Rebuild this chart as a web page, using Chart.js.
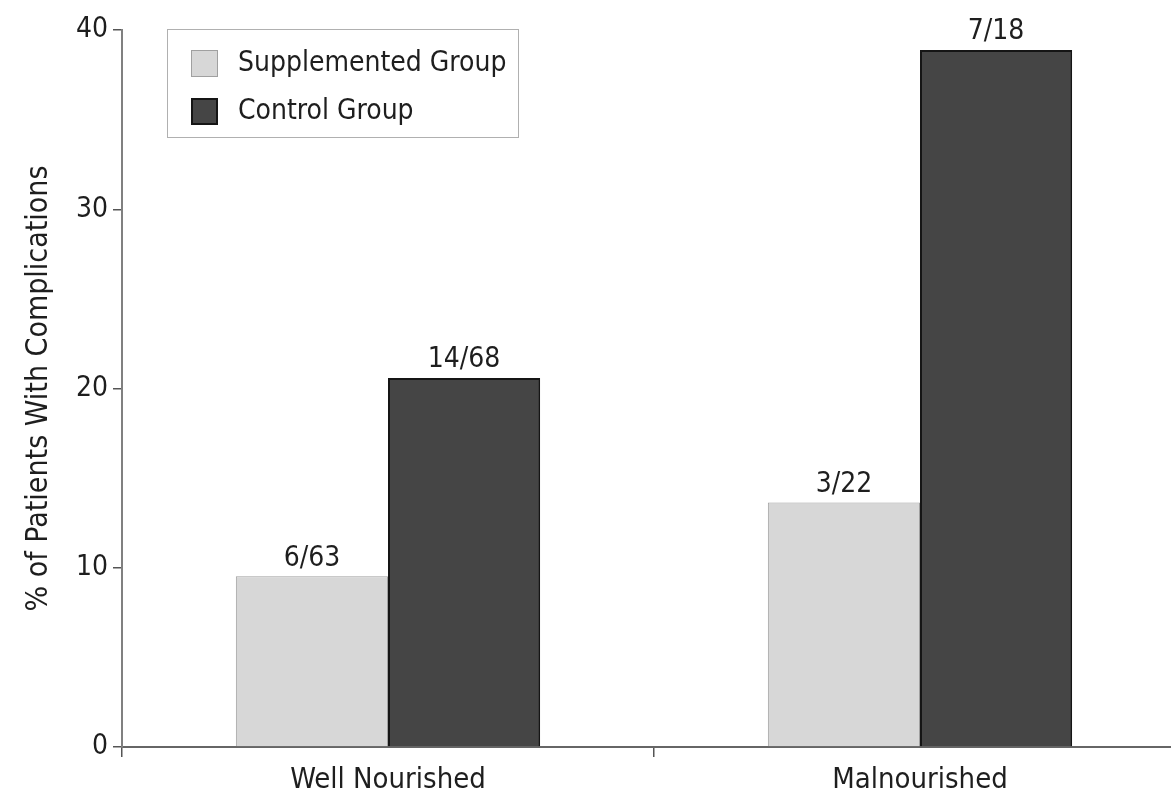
<!DOCTYPE html>
<html>
<head>
<meta charset="utf-8">
<script src="https://cdn.jsdelivr.net/npm/chart.js@4/dist/chart.umd.min.js"></script>
<style>
  html, body { margin: 0; padding: 0; background: #fff; overflow: hidden; }
  #wrap { width: 1190px; height: 796px; }
</style>
</head>
<body>
<div id="wrap"><canvas id="c" width="1190" height="796"></canvas></div>
<script>
// Categories, series and the counts written above each bar
const categories = ['Well Nourished', 'Malnourished'];
const supplementedPct = [9.52, 13.64];   // 6/63, 3/22
const controlPct = [20.59, 38.89];       // 14/68, 7/18
const supplementedLabels = ['6/63', '3/22'];
const controlLabels = ['14/68', '7/18'];
const yTicks = [0, 10, 20, 30, 40];

const FONT = '"DejaVu Sans Condensed", "Liberation Sans Narrow", sans-serif';
const TEXT = '#1e1e1e';

// Writes the n/N count above every bar
const barCounts = {
  id: 'barCounts',
  afterDatasetsDraw(chart) {
    const ctx = chart.ctx;
    ctx.save();
    ctx.font = '28px ' + FONT;
    ctx.fillStyle = TEXT;
    ctx.textAlign = 'center';
    ctx.textBaseline = 'bottom';
    chart.data.datasets.forEach((ds, i) => {
      chart.getDatasetMeta(i).data.forEach((el, j) => {
        ctx.fillText(ds.counts[j], el.x, el.y - 4);
      });
    });
    ctx.restore();
  }
};

// Boxed legend in the upper-left corner of the plot
const boxLegend = {
  id: 'boxLegend',
  afterDraw(chart) {
    const ctx = chart.ctx;
    const a = chart.chartArea;
    const x = a.left + 45, y = a.top - 1, w = 351, h = 108;
    ctx.save();
    ctx.fillStyle = '#fff';
    ctx.fillRect(x, y, w, h);
    ctx.strokeStyle = '#b0b0b0';
    ctx.lineWidth = 1;
    ctx.strokeRect(x + 0.5, y + 0.5, w, h);
    ctx.font = '28px ' + FONT;
    ctx.textBaseline = 'middle';
    chart.data.datasets.forEach((ds, i) => {
      const cy = y + 34 + i * 48;
      ctx.fillStyle = ds.backgroundColor;
      ctx.fillRect(x + 24, cy - 13, 27, 27);
      ctx.strokeStyle = ds.borderColor;
      ctx.lineWidth = ds.borderWidth;
      ctx.strokeRect(x + 24 + ds.borderWidth / 2, cy - 13 + ds.borderWidth / 2, 27 - ds.borderWidth, 27 - ds.borderWidth);
      ctx.fillStyle = TEXT;
      ctx.fillText(ds.label, x + 71, cy + 1);
    });
    ctx.restore();
  }
};

new Chart(document.getElementById('c'), {
  type: 'bar',
  data: {
    labels: categories,
    datasets: [
      {
        label: 'Supplemented Group',
        data: supplementedPct,
        counts: supplementedLabels,
        backgroundColor: '#d7d7d7',
        borderColor: '#a0a0a0',
        borderWidth: 1,
        categoryPercentage: 0.572,
        barPercentage: 1.0
      },
      {
        label: 'Control Group',
        data: controlPct,
        counts: controlLabels,
        backgroundColor: '#454545',
        borderColor: '#151515',
        borderWidth: 2,
        categoryPercentage: 0.572,
        barPercentage: 1.0
      }
    ]
  },
  options: {
    responsive: false,
    animation: false,
    layout: { padding: { top: 30, right: 4, left: 0, bottom: 0 } },
    plugins: {
      legend: { display: false },
      tooltip: { enabled: false }
    },
    scales: {
      x: {
        grid: {
          offset: true,
          drawOnChartArea: false,
          drawTicks: true,
          tickLength: 10,
          color: '#555',
          lineWidth: 1.5
        },
        border: { color: '#666', width: 2 },
        ticks: { color: TEXT, font: { family: FONT, size: 29 }, padding: 6 },
        afterFit(s) { s.height = 49; }
      },
      y: {
        min: 0,
        max: 40,
        afterBuildTicks(s) { s.ticks = yTicks.map(v => ({ value: v })); },
        grid: {
          drawOnChartArea: false,
          drawTicks: true,
          tickLength: 9,
          color: '#555',
          lineWidth: 1.5
        },
        border: { color: '#808080', width: 2 },
        ticks: { color: TEXT, font: { family: FONT, size: 28 }, padding: 5 },
        title: {
          display: true,
          text: '% of Patients With Complications',
          color: TEXT,
          font: { family: FONT, size: 30 },
          padding: { top: 21, bottom: 0 }
        },
        afterFit(s) { s.width = 122; }
      }
    }
  },
  plugins: [barCounts, boxLegend]
});
</script>
</body>
</html>
